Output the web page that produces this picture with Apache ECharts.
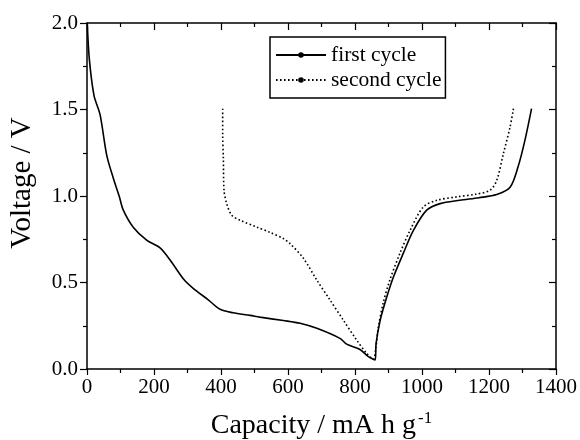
<!DOCTYPE html>
<html>
<head>
<meta charset="utf-8">
<script src="https://cdn.jsdelivr.net/npm/echarts@6/dist/echarts.min.js"></script>
<style>
  html, body { margin: 0; padding: 0; background: #fff; }
  #chart { width: 580px; height: 440px; }
</style>
</head>
<body>
<div id="chart"></div>
<script>
// first cycle: discharge then charge
var firstCap = [1, 7, 21, 39, 59, 79, 96, 108, 138, 178, 218, 248, 288, 317, 362, 397, 436, 487, 516, 586, 636, 686, 755, 775, 815, 840, 860,
    863, 875, 895, 915, 944, 974, 1014, 1054, 1113, 1170, 1223, 1263, 1287, 1307, 1327];
var firstVolt = [1.99, 1.79, 1.58, 1.47, 1.235, 1.10, 1.00, 0.92, 0.82, 0.745, 0.70, 0.63, 0.52, 0.466, 0.40, 0.345, 0.325, 0.31, 0.30, 0.28, 0.264, 0.235, 0.177, 0.144, 0.113, 0.071, 0.052,
    0.148, 0.28, 0.417, 0.533, 0.668, 0.80, 0.918, 0.956, 0.975, 0.99, 1.008, 1.05, 1.17, 1.32, 1.505];

// second cycle
var secondCap = [405, 405, 407, 409, 417, 432, 457, 507, 546, 586, 606, 646, 686, 725, 765, 805, 835, 855,
    862, 870, 884, 904, 934, 964, 1004, 1044, 1104, 1160, 1203, 1223, 1243, 1263, 1273];
var secondVolt = [1.505, 1.35, 1.225, 1.033, 0.956, 0.889, 0.86, 0.82, 0.79, 0.754, 0.725, 0.64, 0.514, 0.40, 0.283, 0.167, 0.09, 0.056,
    0.12, 0.245, 0.38, 0.514, 0.668, 0.80, 0.937, 0.975, 0.995, 1.01, 1.033, 1.09, 1.245, 1.40, 1.505];

var xTicks = [0, 1400, 200];
var yTicks = [0, 2, 0.5];

function zip(a, b) {
    return a.map(function (v, i) { return [v, b[i]]; });
}

var font = 'Liberation Serif';

var baseX = {
    type: 'value',
    min: xTicks[0],
    max: xTicks[1],
    interval: xTicks[2],
    splitLine: { show: false },
    axisLine: { onZero: false, lineStyle: { color: '#000', width: 1.5 } },
    minorTick: { show: true, splitNumber: 2, length: 4, lineStyle: { color: '#000', width: 1.2 } },
    axisTick: { length: 6, lineStyle: { color: '#000', width: 1.2 } }
};
var baseY = {
    type: 'value',
    min: yTicks[0],
    max: yTicks[1],
    interval: yTicks[2],
    splitLine: { show: false },
    axisLine: { onZero: false, lineStyle: { color: '#000', width: 1.5 } },
    minorTick: { show: true, splitNumber: 2, length: 4, lineStyle: { color: '#000', width: 1.2 } },
    axisTick: { length: 7, lineStyle: { color: '#000', width: 1.2 } }
};

var option = {
    animation: false,
    backgroundColor: '#fff',
    textStyle: { fontFamily: font, color: '#000' },
    grid: { left: 87, right: 24, top: 23, bottom: 71, outerBoundsMode: 'none' },
    legend: {
        left: 270,
        top: 37,
        orient: 'vertical',
        itemWidth: 50,
        itemHeight: 7,
        itemGap: 3,
        padding: [7, 4, 7, 5],
        borderColor: '#000',
        borderWidth: 1.5,
        borderRadius: 0,
        textStyle: { fontFamily: font, fontSize: 21.5, color: '#000', lineHeight: 22 },
        data: ['first cycle', 'second cycle']
    },
    xAxis: [
        Object.assign({}, baseX, {
            position: 'bottom',
            name: 'Capacity / mA h g{sup|-1}',
            nameLocation: 'middle',
            nameGap: 41,
            nameTextStyle: {
                fontFamily: font, fontSize: 28, color: '#000',
                rich: { sup: { fontFamily: font, fontSize: 17, verticalAlign: 'top', padding: [0, 0, 14, 2] } }
            },
            axisLabel: {
                fontFamily: font, fontSize: 21, color: '#000', margin: 8,
                formatter: function (v) { return String(v); }
            }
        }),
        Object.assign({}, baseX, {
            position: 'top',
            axisTick: { inside: true, length: 7, lineStyle: { color: '#000', width: 1.2 } },
            axisLabel: { show: false }
        })
    ],
    yAxis: [
        Object.assign({}, baseY, {
            position: 'left',
            name: 'Voltage / V',
            nameLocation: 'middle',
            nameGap: 50,
            nameTextStyle: { fontFamily: font, fontSize: 29, color: '#000', padding: [0, 0, 0, 26] },
            axisLabel: {
                fontFamily: font, fontSize: 21, color: '#000', margin: 9,
                formatter: function (v) { return v.toFixed(1); }
            }
        }),
        Object.assign({}, baseY, {
            position: 'right',
            axisTick: { inside: true, length: 7, lineStyle: { color: '#000', width: 1.2 } },
            axisLabel: { show: false }
        })
    ],
    series: [{
        name: 'first cycle',
        type: 'line',
        data: zip(firstCap, firstVolt),
        symbol: 'circle',
        symbolSize: 4,
        showSymbol: false,
        smooth: 0.3,
        itemStyle: { color: '#000' },
        lineStyle: { color: '#000', width: 1.6 }
    }, {
        name: 'second cycle',
        type: 'line',
        data: zip(secondCap, secondVolt),
        symbol: 'circle',
        symbolSize: 4,
        showSymbol: false,
        smooth: 0.3,
        itemStyle: { color: '#000' },
        lineStyle: { color: '#000', width: 1.6, type: [1.6, 2.4] }
    }]
};

var chart = echarts.init(document.getElementById('chart'));
chart.setOption(option);
</script>
</body>
</html>
